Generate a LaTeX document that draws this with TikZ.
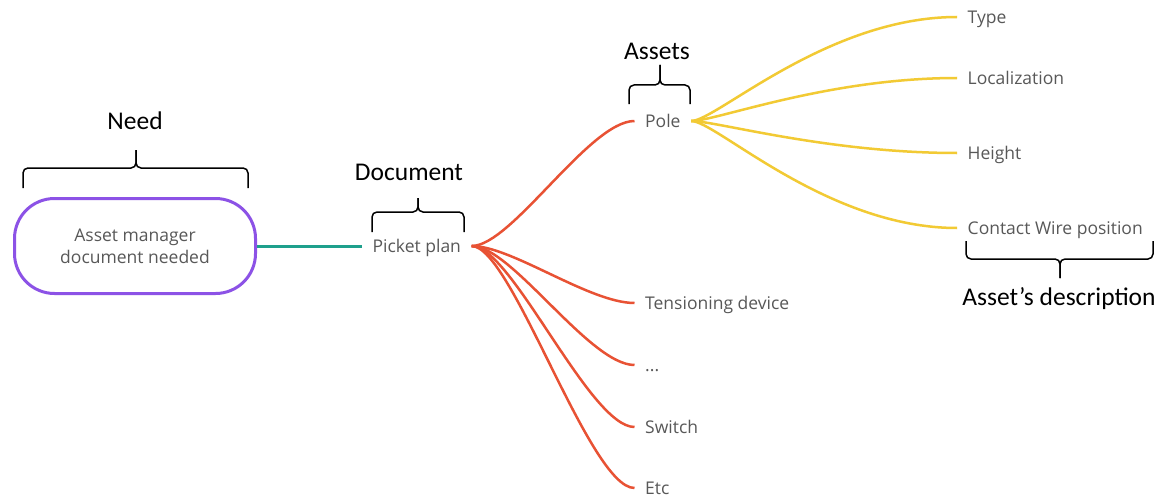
\documentclass[tikz,border=0pt]{standalone}
\usepackage{fontspec}
\setmainfont{Open Sans}
\newfontfamily\labfont{Carlito}
\definecolor{purplec}{RGB}{140,82,230}
\definecolor{tealc}{RGB}{30,160,140}
\definecolor{redc}{RGB}{232,82,52}
\definecolor{yelc}{RGB}{242,202,52}
\definecolor{greytext}{RGB}{88,88,88}
\begin{document}
\begin{tikzpicture}[x=1pt,y=-1pt,
  item/.style={anchor=west, inner xsep=10.5pt, inner ysep=0pt, text height=12.5pt, text depth=0pt, text=greytext, font=\fontsize{17.5}{21}\selectfont},
  lab/.style={inner sep=0pt, text height=16.4pt, text depth=0pt, font=\labfont\fontsize{25.5}{30}\selectfont},
  bracestyle/.style={line width=1.5pt, rounded corners=5pt},
  redline/.style={draw=redc, line width=2.5pt},
  yelline/.style={draw=yelc, line width=2.5pt},
  needbox/.style={draw=purplec, line width=3pt, rounded corners=40pt, minimum width=241pt, minimum height=95pt, align=center, text=greytext, font=\fontsize{17.5}{22}\selectfont}
]
\useasboundingbox (0,0) rectangle (1168,495);
\fill[white] (0,0) rectangle (1168,495);

% need box
\node[needbox] (need) at (135,246) {Asset manager\\document needed};

% document
\node[item] (picket) at (362,246) {Picket plan};

% assets
\node[item] (pole) at (634.5,121) {Pole};
\node[item] (tens) at (634.5,303) {Tensioning device};
\node[item] (dots) at (634.5,365) {...};
\node[item] (switch) at (634.5,427) {Switch};
\node[item] (etc) at (634.5,488) {Etc};

% descriptions
\node[item] (type) at (957,17) {Type};
\node[item] (loc) at (957,78) {Localization};
\node[item] (height) at (957,153) {Height};
\node[item] (contact) at (957,228) {Contact Wire position};

% connectors
\draw[draw=tealc, line width=3pt] (need.east) -- (picket.west);
\foreach \t in {pole,tens,dots,switch,etc}
  \draw[redline] (picket.east) .. controls +(40,0) and +(-45,0) .. (\t.west);
\foreach \t in {type,loc,height,contact}
  \draw[yelline] (pole.east) .. controls +(25,0) and +(-130,0) .. (\t.west);

% braces and labels
\draw[bracestyle] (23,188) -- (23,168) -- (136,168) -- (136,150);
\draw[bracestyle] (248,188) -- (248,168) -- (136,168) -- (136,150);
\node[lab] (needlab) at (135,121) {Need};

\draw[bracestyle] (372,232) -- (372,212) -- (418,212) -- (418,198);
\draw[bracestyle] (464,232) -- (464,212) -- (418,212) -- (418,198);
\node[lab] (doclab) at (409,172) {Document};

\draw[bracestyle] (629,104) -- (629,85) -- (660,85) -- (660,65);
\draw[bracestyle] (690,104) -- (690,85) -- (660,85) -- (660,65);
\node[lab] (assetlab) at (657,51) {Assets};

\draw[bracestyle] (966,241) -- (966,259) -- (1060,259) -- (1060,278);
\draw[bracestyle] (1153,241) -- (1153,259) -- (1060,259) -- (1060,278);
\node[lab] (desclab) at (1059,297.5) {Asset’s description};
\end{tikzpicture}
\end{document}
